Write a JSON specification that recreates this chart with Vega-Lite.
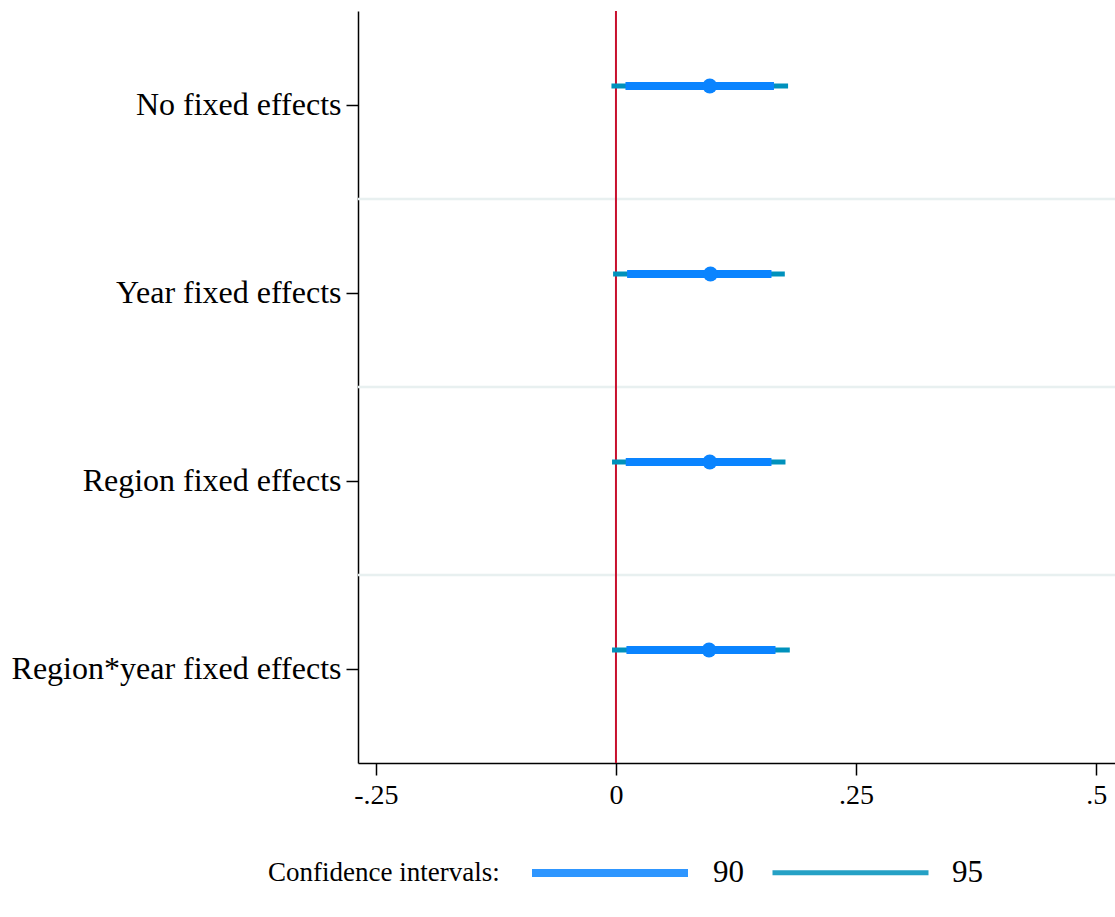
{
  "$schema": "https://vega.github.io/schema/vega-lite/v6.json",
  "autosize": "none",
  "width": 757,
  "height": 752,
  "padding": {"left": 358, "top": 11, "right": 0, "bottom": 154},
  "background": "white",
  "config": {
    "font": "Liberation Serif",
    "view": {"stroke": null},
    "axis": {"labelFont": "Liberation Serif", "titleFont": "Liberation Serif"}
  },
  "datasets": {
    "ci": [
      {"model": "No fixed effects", "level": "95", "lo": -0.0047, "hi": 0.1792, "est": 0.0977},
      {"model": "Year fixed effects", "level": "95", "lo": -0.0030, "hi": 0.1758, "est": 0.0984},
      {"model": "Region fixed effects", "level": "95", "lo": -0.0041, "hi": 0.1765, "est": 0.0977},
      {"model": "Region*year fixed effects", "level": "95", "lo": -0.0041, "hi": 0.1810, "est": 0.0969},
      {"model": "No fixed effects", "level": "90", "lo": 0.0099, "hi": 0.1645, "est": 0.0977},
      {"model": "Year fixed effects", "level": "90", "lo": 0.0116, "hi": 0.1619, "est": 0.0984},
      {"model": "Region fixed effects", "level": "90", "lo": 0.0102, "hi": 0.1619, "est": 0.0977},
      {"model": "Region*year fixed effects", "level": "90", "lo": 0.0109, "hi": 0.1661, "est": 0.0969}
    ],
    "sep": [
      {"model": "Year fixed effects"},
      {"model": "Region fixed effects"},
      {"model": "Region*year fixed effects"}
    ],
    "zero": [{"x": 0}]
  },
  "layer": [
    {
      "data": {"name": "sep"},
      "mark": {"type": "rule", "color": "#e8f0f0", "strokeWidth": 2.5},
      "encoding": {
        "y": {"field": "model", "type": "nominal", "bandPosition": 0,
              "sort": ["No fixed effects", "Year fixed effects", "Region fixed effects", "Region*year fixed effects"]}
      }
    },
    {
      "data": {"name": "zero"},
      "mark": {"type": "rule", "color": "#c8102e", "strokeWidth": 2},
      "encoding": {
        "x": {"field": "x", "type": "quantitative"}
      }
    },
    {
      "data": {"name": "ci"},
      "mark": {"type": "rule", "yOffset": -19},
      "encoding": {
        "y": {"field": "model", "type": "nominal",
              "sort": ["No fixed effects", "Year fixed effects", "Region fixed effects", "Region*year fixed effects"]},
        "x": {"field": "lo", "type": "quantitative"},
        "x2": {"field": "hi"},
        "color": {
          "field": "level", "type": "nominal",
          "scale": {"domain": ["90", "95"], "range": ["#0a84ff", "#0091bc"]},
          "legend": {
            "title": "Confidence intervals:",
            "orient": "none",
            "legendX": -90,
            "legendY": 780,
            "direction": "horizontal",
            "titleOrient": "left",
            "titleFontSize": 27,
            "titleFontWeight": "normal",
            "titleFont": "Liberation Serif",
            "titleColor": "black",
            "titleLimit": 0,
            "titlePadding": 28,
            "titleAnchor": "middle",
            "titleBaseline": "line-top",
            "titleLineHeight": 66,
            "symbolType": "stroke",
            "symbolSize": 24336,
            "symbolStrokeWidth": 10,
            "symbolOpacity": 0.85,
            "labelFontSize": 31,
            "labelFont": "Liberation Serif",
            "labelColor": "black",
            "labelOffset": 21,
            "columnPadding": 18
          }
        },
        "strokeWidth": {
          "field": "level", "type": "nominal",
          "scale": {"domain": ["90", "95"], "range": [8, 5]},
          "legend": null
        }
      }
    },
    {
      "data": {"name": "ci"},
      "transform": [{"filter": "datum.level == '90'"}],
      "mark": {"type": "point", "filled": true, "opacity": 1, "size": 220, "color": "#0a84ff", "yOffset": -19},
      "encoding": {
        "y": {"field": "model", "type": "nominal",
              "sort": ["No fixed effects", "Year fixed effects", "Region fixed effects", "Region*year fixed effects"],
              "scale": {"paddingInner": 0, "paddingOuter": 0},
              "axis": {
                "title": null,
                "labelFontSize": 32,
                "labelLimit": 0,
                "labelColor": "black",
                "labelPadding": 5,
                "tickSize": 12,
                "tickColor": "black",
                "tickWidth": 1.5,
                "domainColor": "black",
                "domainWidth": 1.5,
                "grid": false
              }
            },
        "x": {
          "field": "est", "type": "quantitative",
          "scale": {"domain": [-0.2686, 0.5196], "nice": false, "zero": false},
          "axis": {
            "title": null,
            "values": [-0.25, 0, 0.25, 0.5],
            "labelExpr": "datum.value == 0 ? '0' : (datum.value < 0 ? '-' : '') + replace(format(abs(datum.value), '.2~f'), '0.', '.')",
            "labelFontSize": 28,
            "labelColor": "black",
            "labelPadding": 6,
            "tickSize": 12,
            "tickColor": "black",
            "tickWidth": 1.5,
            "domainColor": "black",
            "domainWidth": 1.5,
            "grid": false,
            "labelFlush": false
          }
        }
      }
    }
  ]
}
